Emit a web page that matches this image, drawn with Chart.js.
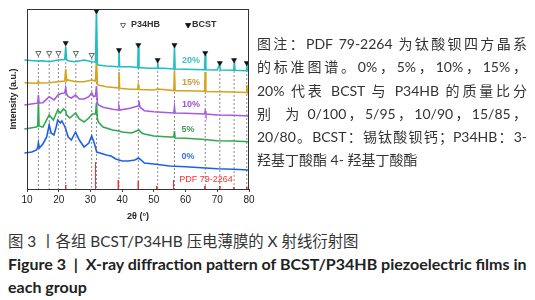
<!DOCTYPE html>
<html>
<head>
<meta charset="utf-8">
<script src="https://cdn.jsdelivr.net/npm/chart.js@4.4.1/dist/chart.umd.min.js"></script>
<style>
  body { margin: 0; width: 535px; height: 300px; background: #fff; position: relative; overflow: hidden;
         font-family: Lato, "Noto Sans CJK SC", sans-serif; color: #333; }
  #wrap { position: absolute; left: 0; top: 0; }
  .note { position: absolute; left: 257px; top: 32px; width: 270px; font-size: 14px; line-height: 23.3px; }
  .note div { text-align: justify; text-align-last: justify; }
  .note div.last { text-align-last: left; }
  .cap { position: absolute; left: 8px; white-space: nowrap; }
  .cap.zh { top: 231px; line-height: 20px; font-size: 15.4px; }
  .cap.en { top: 252px; line-height: 23px; font-size: 16px; font-weight: bold; color: #222; }
</style>
</head>
<body>
<div id="wrap"><canvas id="xrd" width="260" height="223"></canvas></div>

<div class="note">
  <div>图注：PDF 79-2264 为钛酸钡四方晶系</div>
  <div>的标准图谱。0%，5%，10%，15%，</div>
  <div>20% 代表 BCST 与 P34HB 的质量比分</div>
  <div>别&nbsp; 为 0/100，5/95，10/90，15/85，</div>
  <div>20/80。BCST：锡钛酸钡钙；P34HB：3-</div>
  <div class="last">羟基丁酸酯 4- 羟基丁酸酯</div>
</div>
<div class="cap zh">图 3 丨各组 BCST/P34HB 压电薄膜的 X 射线衍射图</div>
<div class="cap en">Figure 3 &nbsp;|&nbsp; X-ray diffraction pattern of BCST/P34HB piezoelectric films in<br>each group</div>

<script>
// 2θ / intensity pairs (a.u., curves stacked with offsets as in the figure)
const curve0 = [[9.2,36],[11.5,37],[13,39],[13.4,42],[13.6,46],[13.9,41],[15,45],[16.2,52],[17,64],[17.6,56],
  [18.5,54],[19.2,62],[19.7,69],[20.5,66],[21,68],[21.5,65],[22,62],[23,52],[24,49],[25.3,57],[26.5,49],
  [28,42],[29.5,46],[30.4,53],[31.2,46],[32,37],[33,36],[35,34],[36.5,33],[38,30],[40,28],[42,28],[44,29],
  [45.2,31],[46,29],[47,26],[50,25],[55,23],[60,22.3],[65,21.3],[70,20.3],[75,19.7],[80,19]];
const curve5 = [[9.2,60],[13,62],[13.4,63],[13.6,88],[13.8,63],[15,62],[17,74],[18.3,69],[19.7,79],[20.5,76],
  [21.5,80],[22.2,78],[22.5,74],[23.5,71],[25.3,76],[26.5,70],[28,67],[29.5,71],[30.5,75],[31.5,75],[31.7,78],
  [31.9,86],[32.2,70],[32.5,67],[34,62],[37,59],[39,58],[40,57],[43,56],[44.5,58],[45.3,59],[46.2,56],[47,55],
  [50,53],[55,52],[56.3,52],[56.5,58],[56.7,51],[60,50.7],[65,49.7],[70,48.3],[75,48],[80,47.3]];
const curve10 = [[9.2,84],[13,85.7],[13.4,86],[13.6,94],[13.8,86],[15,86.3],[17,92.3],[18.5,89],[19.8,94],
  [21,95.7],[21.9,96],[22.2,101],[22.5,95],[23,92.3],[24,91],[25.3,94],[26.5,90],[28,90],[29.5,92.3],[30.4,96.3],
  [31,92.3],[31.6,93],[31.9,103],[32.2,86],[32.5,84],[34,81.7],[37,79.7],[38.8,79],[39,82],[39.2,79],[42.5,80.7],
  [45,83],[45.3,88],[45.6,82],[47,78.3],[50,77.3],[55,76.3],[56.3,76],[56.5,82],[56.7,76],[60,75.7],[66,75],
  [66.2,78],[66.4,75],[70,74],[75,73.7],[80,73]];
const curve15 = [[9.2,106.3],[13,105.7],[13.4,106],[13.6,108],[13.8,106],[17,106.3],[19.8,107.3],[21.9,108],
  [22.2,120],[22.5,108],[22.8,109],[25.3,107.3],[28,107.3],[30.4,109],[31.6,108],[31.9,130],[32.2,105],
  [32.5,104],[35,102.3],[38.8,101],[39,117],[39.2,100.7],[42.5,99.7],[44.9,100],[45.1,104],[45.3,99.5],[50,99],
  [51.2,100],[56.3,98.5],[56.5,119],[56.7,98.3],[60,98.3],[66,97.7],[66.2,117],[66.4,97.5],[70,97.3],[75,97],
  [79.1,96.5],[79.3,104],[79.5,96],[80,96]];
const curve20 = [[9.2,129],[13,128],[15,128.3],[17,127.3],[19.8,129],[21.9,129.5],[22.2,142],[22.5,129],
  [23,128.3],[25,127.3],[28,129],[30.4,127.3],[31.6,127],[31.9,180],[32.2,125],[32.5,124],[35,123],[38.8,122.3],
  [39,139],[39.2,122.3],[42.5,122.3],[44.9,121.5],[45.1,142],[45.3,121.5],[48,120.7],[51,120.7],[51.2,127],
  [51.4,120.7],[53,120.7],[56.3,120],[56.5,142],[56.7,120],[60,119.7],[66,119.3],[66.2,134],[66.4,119.3],
  [70,119],[70.7,124],[71,119],[75.2,118.7],[75.4,127],[75.6,118.7],[79.1,118.3],[79.3,124],[79.5,118.3],[80,118.3]];

// reference pattern PDF 79-2264
const pdfPeaks = [22.2, 31.6, 38.8, 45.1, 50.9, 56.2, 66.1, 70.8, 75.2, 79.3];
const pdfHeights = [4, 27, 9, 8, 3, 9, 3, 3, 2, 2];

// peak markers
const bcstPeaks = [22.2, 31.9, 39, 45.1, 51.2, 56.5, 66.2, 70.8, 75.3, 79.3];
const bcstMarkY = [146, 178, 139, 144, 129, 144, 136, 126, 129, 126];
const p34hbPeaks = [13.6, 17.0, 19.9, 25.4, 30.4];
const p34hbMarkY = [136, 136, 136, 136, 134];

const xTicks = [10, 20, 30, 40, 50, 60, 70, 80];
const groups = ['0%', '5%', '10%', '15%', '20%'];
const curves = [curve0, curve5, curve10, curve15, curve20];

const lineColors = ['#1f5fe6', '#2ea84f', '#a35be6', '#d6a31a', '#1ebec3'];
const labelColors = ['#3b6ff0', '#3aa050', '#a050e0', '#c89e3c', '#3cc0c0'];
const labelPos = [[60.8, 32], [60.8, 59], [61.7, 84], [61.7, 106], [61.7, 128]];

const pts = arr => arr.map(([x, y]) => ({ x, y }));

function sticks(xs, tops) {
  const out = [];
  xs.forEach((x, i) => { out.push({ x, y: tops[i] }, { x, y: 0 }, { x, y: null }); });
  return out;
}

const datasets = [];
datasets.push({
  data: sticks(bcstPeaks.concat(p34hbPeaks), bcstMarkY.concat(p34hbMarkY).map(v => v - 3)),
  borderColor: '#8a8a8a', borderWidth: 1, borderDash: [2, 2], spanGaps: false, order: 20
});
curves.forEach((c, i) => {
  datasets.push({
    data: pts(c), borderColor: lineColors[i], borderWidth: 1.6, order: 10 - i,
    clip: { left: 3, top: 0, right: 0, bottom: 0 }
  });
});
datasets.push({ data: sticks(pdfPeaks, pdfHeights), borderColor: '#ff2a2a', borderWidth: 1, spanGaps: false, order: 1 });
datasets.push({
  type: 'scatter', data: bcstPeaks.map((x, i) => ({ x, y: bcstMarkY[i] })),
  pointStyle: 'triangle', rotation: 180, pointRadius: 3, backgroundColor: '#111', borderColor: '#111',
  borderWidth: 0.5, order: 0
});
datasets.push({
  type: 'scatter', data: p34hbPeaks.map((x, i) => ({ x, y: p34hbMarkY[i] })),
  pointStyle: 'triangle', rotation: 180, pointRadius: 3, backgroundColor: '#fff', borderColor: '#444',
  borderWidth: 0.8, order: 0
});

const annotate = {
  id: 'annotate',
  afterDatasetsDraw(chart) {
    const { ctx, chartArea: a, scales: { x, y } } = chart;
    ctx.save();
    ctx.strokeStyle = '#333';
    ctx.lineWidth = 1;
    ctx.strokeRect(a.left + 0.5, a.top + 0.5, a.right - a.left - 1, a.bottom - a.top);

    ctx.font = 'bold 9px "Liberation Sans"';
    ctx.textBaseline = 'middle';
    ctx.textAlign = 'center';
    groups.forEach((g, i) => {
      ctx.fillStyle = labelColors[i];
      ctx.fillText(g, x.getPixelForValue(labelPos[i][0]), y.getPixelForValue(labelPos[i][1]));
    });
    ctx.textAlign = 'left';
    ctx.fillStyle = '#ff3030';
    ctx.font = '9px "Liberation Sans"';
    ctx.fillText('PDF 79-2264', x.getPixelForValue(58), y.getPixelForValue(9));

    // legend
    ctx.font = 'bold 9px "Liberation Sans"';
    ctx.fillStyle = '#fff'; ctx.strokeStyle = '#444'; ctx.lineWidth = 0.8;
    Chart.helpers.drawPoint(ctx, { pointStyle: 'triangle', rotation: 180, radius: 3, borderWidth: 0.8 },
      x.getPixelForValue(40.3), y.getPixelForValue(164));
    ctx.fillStyle = '#111'; ctx.strokeStyle = '#111';
    Chart.helpers.drawPoint(ctx, { pointStyle: 'triangle', rotation: 180, radius: 3, borderWidth: 0.5 },
      x.getPixelForValue(60.8), y.getPixelForValue(164));
    ctx.fillStyle = '#333';
    ctx.fillText('P34HB', x.getPixelForValue(42.8), y.getPixelForValue(164));
    ctx.fillText('BCST', x.getPixelForValue(62), y.getPixelForValue(164));
    ctx.restore();
  }
};

new Chart(document.getElementById('xrd'), {
  type: 'line',
  data: { datasets },
  options: {
    responsive: false,
    animation: false,
    devicePixelRatio: 1,
    layout: { padding: { top: 9, right: 11, left: 0, bottom: 0 } },
    elements: { point: { radius: 0 }, line: { tension: 0 } },
    plugins: { legend: { display: false }, tooltip: { enabled: false } },
    scales: {
      x: {
        type: 'linear', min: xTicks[0], max: xTicks[xTicks.length - 1],
        afterBuildTicks: s => { s.ticks = xTicks.map(v => ({ value: v })); },
        ticks: { font: { size: 10, family: 'Liberation Sans' }, color: '#222', padding: 2, maxRotation: 0 },
        grid: { drawOnChartArea: false, tickLength: 3, color: '#444' },
        border: { color: '#333' },
        title: { display: true, text: '2θ (°)', color: '#222', font: { size: 9, weight: 'bold', family: 'Liberation Sans' },
                 padding: { top: 0, bottom: 1 } },
        afterFit: s => { s.height = 34; }
      },
      y: {
        min: 0, max: 180,
        ticks: { display: false },
        grid: { display: false },
        border: { color: '#333' },
        title: { display: true, text: 'Intensity (a.u.)', color: '#222', font: { size: 9, weight: 'bold', family: 'Liberation Sans' },
                 padding: { top: 8.5, bottom: 0 } },
        afterFit: s => { s.width = 27; }
      }
    }
  },
  plugins: [annotate]
});
</script>
</body>
</html>
